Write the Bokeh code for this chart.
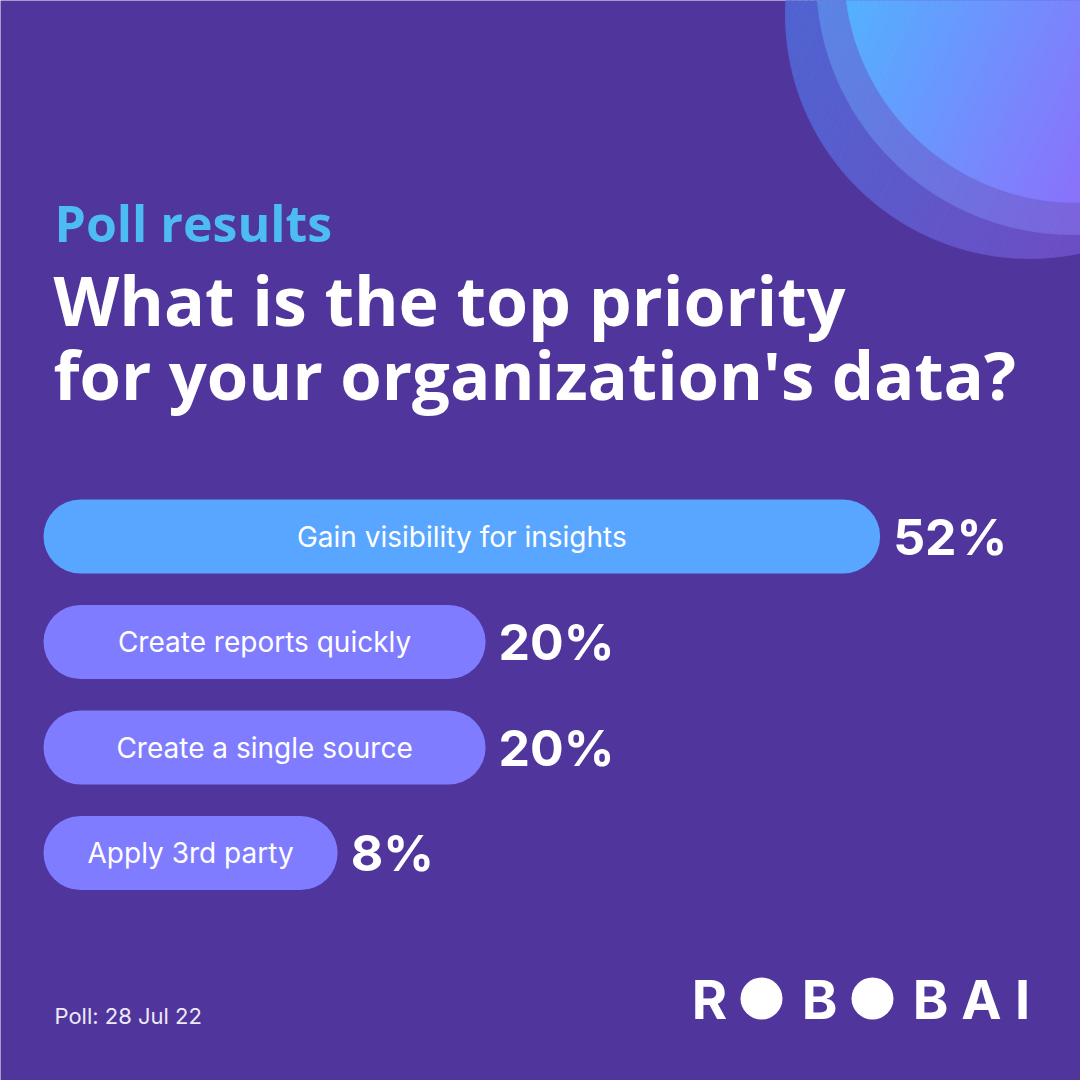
import numpy as np
from bokeh.plotting import figure
from bokeh.models import ColumnDataSource, Range1d
from bokeh.core.properties import value
from bokeh.embed import file_html
from bokeh.resources import INLINE

# ---------------- data ----------------
categories = ["Gain visibility for insights", "Create reports quickly",
              "Create a single source", "Apply 3rd party"]
percents = [52, 20, 20, 8]
pct_labels = ["52%", "20%", "20%", "8%"]
bar_colors = ["#58A6FF", "#7F7CFF", "#7F7CFF", "#7F7CFF"]
rows = [0, 1, 2, 3]

BG = "#50359C"

# percent axis: 12.33 px per percent, 0% at pixel 238.5; rows 105.5 px apart, row 0 at pixel 536
PX_PER_PCT = 12.33
ZERO_PX = 238.5
ROW_PX = 105.5
ROW0_PX = 536.0
W = H = 1080

x_start = -ZERO_PX / PX_PER_PCT
x_end = (W - ZERO_PX) / PX_PER_PCT
y_top = -ROW0_PX / ROW_PX
y_bot = (H - ROW0_PX) / ROW_PX
bar_left = (43 - ZERO_PX) / PX_PER_PCT

p = figure(width=W, height=H, x_range=Range1d(x_start, x_end), y_range=Range1d(y_bot, y_top),
           x_axis_type=None, y_axis_type=None, toolbar_location=None, output_backend="svg",
           min_border=0, background_fill_color=BG, border_fill_color=BG, outline_line_color=None)
p.extra_x_ranges = {"px": Range1d(0, W)}
p.extra_y_ranges = {"px": Range1d(H, 0)}


# ---------------- decorative gradient circles ----------------
def hex2rgb(h):
    h = h.lstrip("#")
    return np.array([int(h[i:i + 2], 16) for i in (0, 2, 4)], dtype=float)


def mix(c0, c1, t):
    a, b = hex2rgb(c0), hex2rgb(c1)
    c = a + (b - a) * t
    return "#%02x%02x%02x" % tuple(int(round(v)) for v in c)


def grad_circle(cx, cy, r, c0, c1, s_lo, s_hi, n=90, ang_deg=25):
    ang = np.deg2rad(ang_deg)
    xs, ys, cols = [], [], []
    edges = np.linspace(-1, 1, n + 1)
    for k in range(n):
        s0, s1 = edges[k], edges[k + 1]
        ss = np.linspace(s0, s1, 10)
        th = np.concatenate([ang + np.arccos(ss), ang - np.arccos(ss[::-1])])
        xs.append(list(cx + r * np.cos(th)))
        ys.append(list(cy + r * np.sin(th)))
        sm = 0.5 * (s0 + s1)
        t = min(max((sm - s_lo) / (s_hi - s_lo), 0.0), 1.0)
        cols.append(mix(c0, c1, t))
    return dict(xs=xs, ys=ys, c=cols)


circles = [
    (1029, 14, 244, "#5163D0", "#6C4EC4", -0.85, 0.55),
    (1072, -22, 256, "#5A85E4", "#7E62DC", -0.85, 0.50),
    (1076, -30, 232, "#53B2FF", "#8C70FB", -0.85, 0.45),
]
for cx, cy, r, c0, c1, lo, hi in circles:
    src = ColumnDataSource(grad_circle(cx, cy, r, c0, c1, lo, hi))
    p.patches("xs", "ys", source=src, fill_color="c", line_color="c", line_width=1,
              x_range_name="px", y_range_name="px")

# ---------------- titles ----------------
p.text(x=[54], y=[222], text=["Poll results"], text_color="#4DBCF2",
       text_font=value("Open Sans"), text_font_style="bold", text_font_size=value("50px"),
       text_baseline="middle", text_align="left", x_range_name="px", y_range_name="px")
p.text(x=[53], y=[299], text=["What is the top priority"],
       text_color="white", text_font=value("Open Sans"), text_font_style="bold",
       text_font_size=value("68px"), text_baseline="middle", text_align="left",
       x_range_name="px", y_range_name="px")
p.text(x=[53], y=[373], text=["for your organization's data?"],
       text_color="white", text_font=value("Open Sans"), text_font_style="bold",
       text_font_size=value("67px"), text_baseline="middle", text_align="left",
       x_range_name="px", y_range_name="px")

# ---------------- bars ----------------
src = ColumnDataSource(dict(y=rows, right=percents, left=[bar_left] * len(rows),
                            color=bar_colors, cat=categories, lab=pct_labels,
                            mid=[(bar_left + v) / 2 for v in percents]))
p.hbar(y="y", left="left", right="right", height=74 / ROW_PX, fill_color="color",
       line_color=None, border_radius=37, source=src)
p.text(x="mid", y="y", text="cat", source=src, text_color="white", text_font=value("Inter"),
       text_font_size=value("28px"), text_align="center", text_baseline="middle")
p.text(x="right", y="y", text="lab", source=src, text_color="white", text_font=value("Inter"),
       text_font_style="bold", text_font_size=value("50px"), text_align="left",
       text_baseline="middle", x_offset=13)

# ---------------- footer ----------------
p.text(x=[54], y=[1015], text=["Poll: 28 Jul 22"], text_color="#EDE9F7",
       text_font=value("Inter"), text_font_size=value("22px"), text_align="left",
       text_baseline="middle", x_range_name="px", y_range_name="px")

logo_letters = ["R", "B", "B", "A", "I"]
logo_x = [709, 819, 930, 981, 1022]
p.text(x=logo_x, y=[999] * 5, text=logo_letters, text_color="white", text_font=value("Inter"),
       text_font_style="bold", text_font_size=value("54px"), text_align="center",
       text_baseline="middle", x_range_name="px", y_range_name="px")
p.circle(x=[761, 872], y=[998, 998], radius=21, fill_color="white", line_color=None,
         x_range_name="px", y_range_name="px")

open("out.html", "w").write(file_html(p, INLINE))
